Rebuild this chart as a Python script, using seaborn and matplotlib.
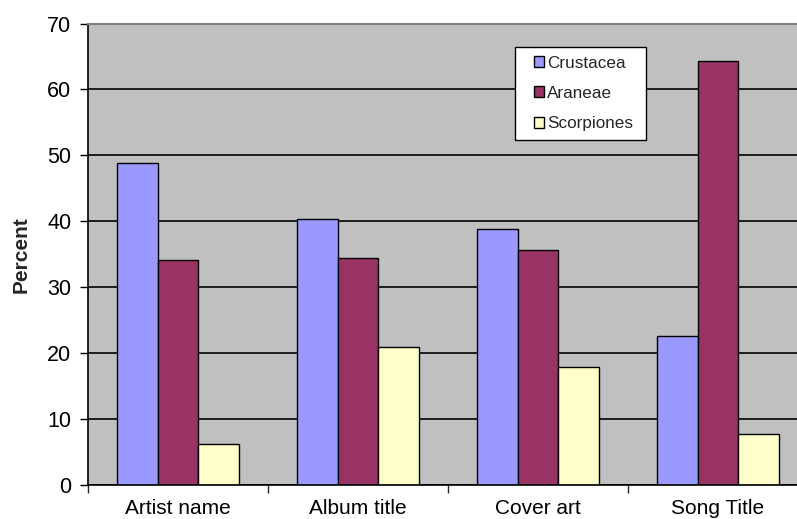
import matplotlib
matplotlib.use('Agg')
import matplotlib.pyplot as plt
import seaborn as sns
import pandas as pd
from matplotlib.ticker import FixedLocator
from matplotlib.legend_handler import HandlerPatch

categories = ['Artist name', 'Album title', 'Cover art', 'Song Title']
series = ['Crustacea', 'Araneae', 'Scorpiones']
crustacea = [48.8, 40.3, 38.9, 22.6]
araneae = [34.2, 34.4, 35.6, 64.3]
scorpiones = [6.2, 20.9, 17.9, 7.8]
colors = ['#9999FF', '#993366', '#FFFFCC']

df = pd.DataFrame({
    'category': categories * 3,
    'series': [s for s in series for _ in categories],
    'value': crustacea + araneae + scorpiones,
})

sns.set_style('white')
plt.rcParams['font.family'] = ['Liberation Sans', 'DejaVu Sans']

fig = plt.figure(figsize=(7.97, 5.19), dpi=100)
# plot area runs past the right edge, like the cropped original
ax = fig.add_axes([88 / 797, 34 / 519, 720 / 797, 461.5 / 519])

sns.barplot(data=df, x='category', y='value', hue='series', order=categories,
            hue_order=series, palette=dict(zip(series, colors)), width=0.675,
            edgecolor='black', linewidth=1, saturation=1, ax=ax)

ax.set_facecolor('#C0C0C0')
ax.set_xlim(-0.5, 3.5)
ax.set_ylim(0, 70)
ax.set_yticks(range(0, 71, 10))
ax.yaxis.grid(True, color='black', linewidth=1.2)
ax.set_axisbelow(True)

for side in ['left', 'bottom']:
    ax.spines[side].set_color('black')
    ax.spines[side].set_linewidth(1.2)
ax.spines['top'].set_color('#808080')
ax.spines['top'].set_linewidth(1.5)
ax.spines['right'].set_visible(False)

ax.tick_params(axis='y', left=True, length=6, width=1, pad=6, labelsize=15.5,
               colors='black')
ax.xaxis.set_minor_locator(FixedLocator([-0.5, 0.5, 1.5, 2.5, 3.5]))
ax.tick_params(axis='x', which='minor', bottom=True, length=6, width=1)
ax.tick_params(axis='x', which='major', bottom=True, length=0, pad=10,
               labelsize=15, colors='black')

ax.set_xlabel('')
ax.set_ylabel('Percent', fontsize=15, fontweight='bold')
ax.yaxis.set_label_coords(-0.08, 0.5)

# rebuild the legend as a small Excel-like box with little square keys
old = ax.get_legend()
handles = old.legend_handles
labels = [t.get_text() for t in old.get_texts()]
old.remove()
ax.legend(handles, labels, loc='upper left',
          bbox_to_anchor=(427 / 720, 438 / 461.5, 131 / 720, 0.0), mode='expand',
          frameon=True, fancybox=False, edgecolor='black', framealpha=1,
          fontsize=12.3, handlelength=1.18, handleheight=0.6,
          handletextpad=0.2, labelspacing=0.9, borderaxespad=0,
          borderpad=0.5,
          handler_map={type(handles[0]): HandlerPatch(xpad=0.59)})

fig.canvas.draw()
ax.get_ygridlines()[-1].set_visible(False)

fig.savefig('out.png', dpi=100)
